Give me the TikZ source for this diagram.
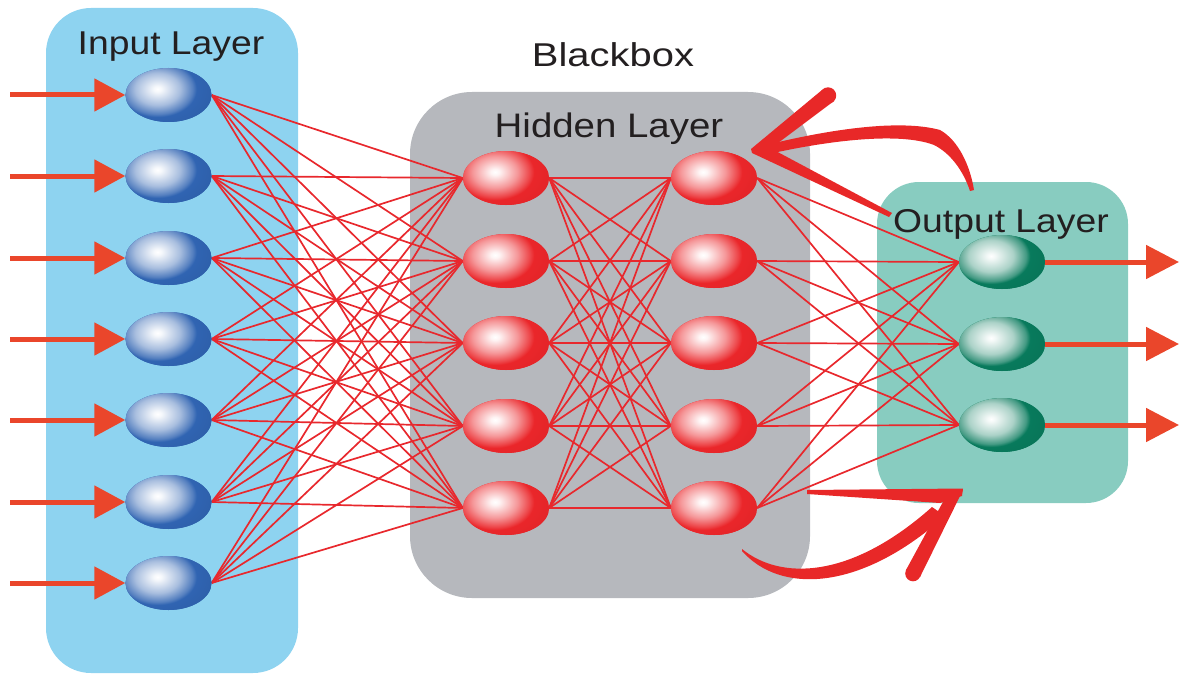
\documentclass[tikz,border=0pt]{standalone}
\usepackage{fontspec}
\setmainfont{Liberation Sans}
\newfontfamily\lblfont[FakeStretch=1.13]{Liberation Sans}
\newfontfamily\bbfont[FakeStretch=1.21]{Liberation Sans}
\usetikzlibrary{shapes.geometric,arrows.meta}
\definecolor{inbox}{RGB}{142,211,240}
\definecolor{hidbox}{RGB}{182,184,189}
\definecolor{outbox}{RGB}{136,204,192}
\definecolor{nblue}{RGB}{48,100,178}
\definecolor{nred}{RGB}{234,38,42}
\definecolor{ngreen}{RGB}{8,122,92}
\definecolor{edgered}{RGB}{232,40,45}
\definecolor{arrred}{RGB}{234,70,43}
\definecolor{curvered}{RGB}{232,40,40}
\definecolor{txt}{RGB}{35,31,32}
\pgfdeclareradialshading{blueball}{\pgfpoint{0bp}{0bp}}{color(0bp)=(white); color(1.5bp)=(white!95!nblue); color(8bp)=(nblue!42!white); color(12.5bp)=(nblue!82!white); color(14bp)=(nblue); color(25bp)=(nblue!92!black); color(50bp)=(nblue!80!black)}
\pgfdeclareradialshading{redball}{\pgfpoint{0bp}{0bp}}{color(0bp)=(white); color(1.5bp)=(white!95!nred); color(8bp)=(nred!48!white); color(12.5bp)=(nred!86!white); color(14bp)=(nred); color(25bp)=(nred!95!black); color(50bp)=(nred!85!black)}
\pgfdeclareradialshading{greenball}{\pgfpoint{0bp}{0bp}}{color(0bp)=(white); color(1.5bp)=(white!95!ngreen); color(8bp)=(ngreen!34!white); color(12.5bp)=(ngreen!76!white); color(14bp)=(ngreen); color(25bp)=(ngreen!93!black); color(50bp)=(ngreen!80!black)}
\pgfdeclarelayer{boxes}
\pgfdeclarelayer{edges}
\pgfsetlayers{boxes,edges,main}
\begin{document}
\begin{tikzpicture}[x=1pt,y=-1pt,
  neuron/.style 2 args={ellipse, minimum width=86pt, minimum height=54pt, inner sep=0pt, fill=#1,
    path picture={
      \shade[shading=#2] ([shift={(-11pt,6pt)}]path picture bounding box.center) ellipse [x radius=70pt, y radius=50pt];
    }},
  edge/.style={draw=edgered, line width=1.7pt},
  ioarrow/.style={draw=arrred, line width=5pt, -{Triangle[length=31pt,width=32pt]}},
  lbl/.style={text=txt, font=\lblfont\fontsize{33}{36}\selectfont, inner sep=0pt, anchor=base},
  curve/.style={fill=curvered}
]
\useasboundingbox (0,0) rectangle (1182,674);
\begin{pgfonlayer}{boxes}
\fill[inbox, rounded corners=45pt] (46,8) rectangle (298,673);
\fill[hidbox, rounded corners=62pt] (410,92) rectangle (810,598);
\fill[outbox, rounded corners=42pt] (877,182) rectangle (1128,503);
\end{pgfonlayer}
% neurons
\foreach \i in {1,...,7} \node[neuron={nblue}{blueball}] (in\i) at (168.5, {95+round((\i-1)*81.3)}) {};
\foreach \i in {1,...,5} {
  \node[neuron={nred}{redball}] (ha\i) at (506, {178+round((\i-1)*82.5)}) {};
  \node[neuron={nred}{redball}] (hb\i) at (714, {178+round((\i-1)*82.5)}) {};
}
\foreach \i in {1,2,3} \node[neuron={ngreen}{greenball}] (out\i) at (1002, {262+round((\i-1)*81.5)}) {};
% connections
\begin{pgfonlayer}{edges}
\foreach \i in {1,...,7} \foreach \j in {1,...,5} \draw[edge] (in\i.east) -- (ha\j.west);
\foreach \i in {1,...,5} \foreach \j in {1,...,5} \draw[edge] (ha\i.east) -- (hb\j.west);
\foreach \i in {1,...,5} \foreach \j in {1,2,3} \draw[edge] (hb\i.east) -- (out\j.west);
\end{pgfonlayer}
% input / output arrows
\foreach \i in {1,...,7} {
  \coordinate (src\i) at (10, {95+round((\i-1)*81.3)});
  \draw[ioarrow] (src\i) -- (in\i.west);
}
\foreach \i in {1,2,3} {
  \coordinate (dst\i) at (1179, {262+round((\i-1)*81.5)});
  \draw[ioarrow, -{Triangle[length=33pt,width=33pt]}] (out\i.east) -- (dst\i);
}
% feedback arrow (top)
\fill[curve] (751,149) -- (822,90) -- (834,101) -- (766,152) -- cycle;
\fill[curve] (828,95.5) circle[radius=8.2pt];
\fill[curve] (762,146) .. controls (830,129) and (900,119) .. (940,130) .. controls (958,140) and (970,165) .. (974,190)
  -- (970,191) .. controls (963,170) and (950,153) .. (934,145) .. controls (900,132) and (830,140) .. (764,155) -- cycle;
\fill[curve] (751,149) -- (772,149) -- (892,213) -- (889,217) -- (752,153) -- cycle;
% bottom arrow
\fill[curve] (807,490) -- (963,488.5) -- (962,496) -- (940,503) -- (807,494) -- cycle;
\fill[curve] (963,490) -- (920,577) -- (906,570) -- (944,500) -- cycle;
\fill[curve] (913,573.5) circle[radius=7.8pt];
\fill[curve] (742,549) .. controls (780,580) and (850,580) .. (932,507) -- (945,516) .. controls (860,592) and (780,594) .. (742,551) -- cycle;
% labels
\node[lbl] (inlabel) at (171,55) {Input Layer};
\node[lbl, font=\bbfont\fontsize{33}{36}\selectfont] (bblabel) at (613,67) {Blackbox};
\node[lbl, font=\lblfont\fontsize{34}{38}\selectfont] (hidlabel) at (609,137) {Hidden Layer};
\node[lbl] (outlabel) at (1001,232) {Output Layer};
\end{tikzpicture}
\end{document}
